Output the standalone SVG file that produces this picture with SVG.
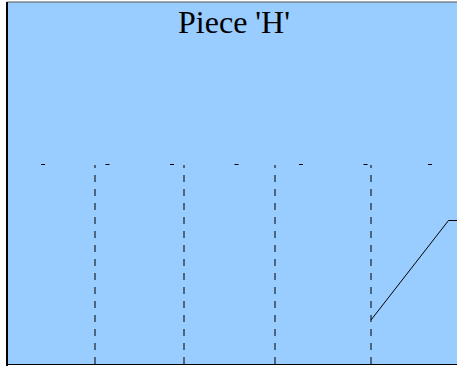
<svg xmlns="http://www.w3.org/2000/svg" width="457" height="366" viewBox="0 0 457 366">
<style>
.title{font-family:"Liberation Serif","Times New Roman",serif;font-size:32px;fill:#000}
.grid{stroke:#000;stroke-width:1;fill:none;stroke-dasharray:7 7;stroke-dashoffset:4}
.tick{stroke:#000;stroke-width:1;fill:none;stroke-dasharray:4 60.5}
.edge{stroke:#000;stroke-width:1;fill:none}
</style>
<g id="frame">
<rect x="7" y="2" width="460" height="363" fill="#99ccff"/>
<line x1="7" y1="2" x2="457" y2="2" stroke="#555" stroke-width="1"/>
<line x1="7" y1="364.5" x2="457" y2="364.5" stroke="#000" stroke-width="1"/>
<line x1="7" y1="2" x2="7" y2="366" stroke="#000" stroke-width="2"/>
<text class="title" x="234" y="33" text-anchor="middle">Piece 'H'</text>
</g>
<g id="connectors">
<line class="tick" x1="41" y1="164.5" x2="457" y2="164.5"/>
<line class="grid" x1="95" y1="165" x2="95" y2="366"/>
<line class="grid" x1="184" y1="165" x2="184" y2="366"/>
<line class="grid" x1="275" y1="165" x2="275" y2="366"/>
<line class="grid" x1="371" y1="165" x2="371" y2="366"/>
<polyline class="edge" points="371,320 448.5,220.5 457,220.5"/>
</g>
</svg>
